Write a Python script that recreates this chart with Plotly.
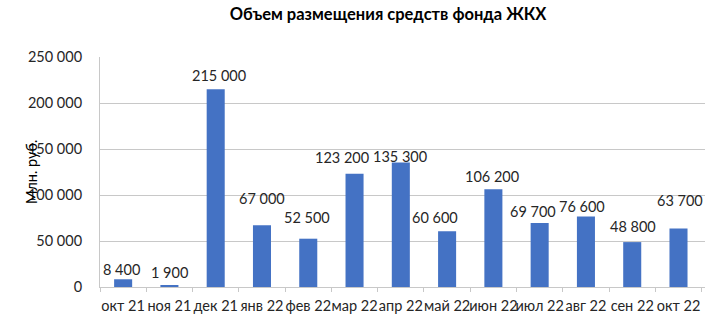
import plotly.graph_objects as go

# Monthly placement volumes of the housing fund, mln rub.
months = ["окт 21", "ноя 21", "дек 21", "янв 22", "фев 22", "мар 22", "апр 22",
          "май 22", "июн 22", "июл 22", "авг 22", "сен 22", "окт 22"]
volumes = [8400, 1900, 215000, 67000, 52500, 123200, 135300,
           60600, 106200, 69700, 76600, 48800, 63700]
y_ticks = [0, 50000, 100000, 150000, 200000, 250000]

# Pixel nudges for the value labels (dx, dy above bar top)
label_dx = [-1.6, 0, 3.5, -0.3, -1.3, -13, -1, -12.6, -1.3, -6.8, -3.5, 1, 1.5]
label_dy = [9.3, 13, 14, 27, 21, 16, 6, 13.5, 12.6, 11.2, 10, 16, 28]

FONT = "Lato, 'Open Sans', sans-serif"
BLUE = "#4472C4"
GRID = "#C8C8C8"
TXT = 14.5

fig = go.Figure(
    go.Bar(x=months, y=volumes, marker=dict(color=BLUE, line=dict(width=0)),
           hoverinfo="x+y")
)

def fmt(v):
    return f"{v:,}".replace(",", " ")

for m, v, dx, dy in zip(months, volumes, label_dx, label_dy):
    fig.add_annotation(x=m, y=v, xref="x", yref="y", text=fmt(v), showarrow=False,
                       xanchor="center", yanchor="middle", xshift=dx, yshift=dy,
                       font=dict(family=FONT, size=TXT, color="#262626"))

fig.add_annotation(x=-0.114, y=0.5, xref="paper", yref="paper", text="Млн. руб.",
                   textangle=-90, showarrow=False, xanchor="center", yanchor="middle",
                   font=dict(family=FONT, size=TXT, color="#000000"))

fig.update_layout(
    width=722, height=327,
    margin=dict(l=100, r=17, t=57, b=40, autoexpand=False),
    paper_bgcolor="white", plot_bgcolor="white",
    bargap=0.61,
    showlegend=False,
    separators=", ",
    title=dict(text="<b>Объем размещения средств фонда ЖКХ</b>",
               x=388 / 722, xref="container", xanchor="center",
               y=1 - 14 / 327, yref="container", yanchor="middle",
               font=dict(family=FONT, size=16.5, color="#000000")),
    font=dict(family=FONT, size=TXT, color="#262626"),
)

fig.update_xaxes(
    type="category", showgrid=False, showline=True, linecolor=GRID, linewidth=1,
    ticks="outside", tickson="boundaries", ticklen=4, tickcolor=GRID,
    tickangle=0, automargin=False, ticklabelstandoff=6,
    tickfont=dict(family=FONT, size=TXT, color="#262626"),
)
fig.update_yaxes(
    range=[0, 250000], tickvals=y_ticks,
    ticktext=[fmt(t) for t in y_ticks],
    showgrid=True, gridcolor=GRID, gridwidth=1,
    showline=True, linecolor=GRID, linewidth=1,
    zeroline=False, ticks="", ticklabelstandoff=14, automargin=False,
    tickfont=dict(family=FONT, size=TXT, color="#262626"),
)

fig.write_html("out.html")
